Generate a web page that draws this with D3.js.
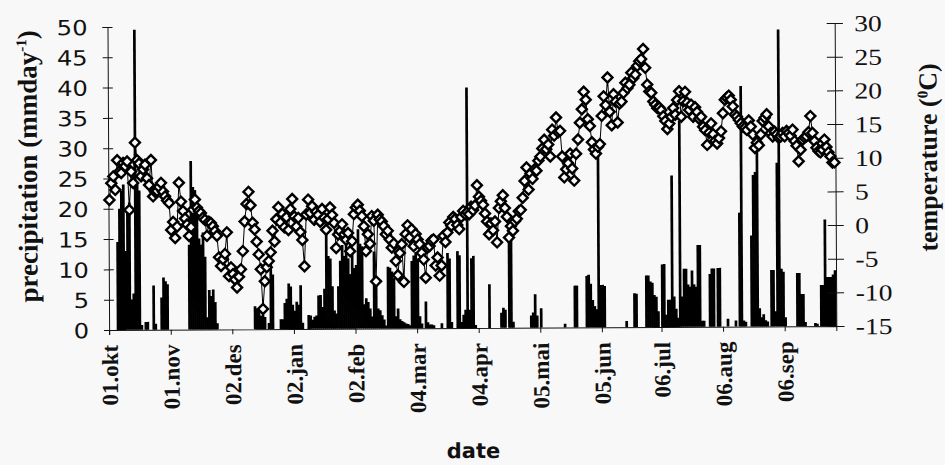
<!DOCTYPE html>
<html>
<head>
<meta charset="utf-8">
<script src="https://cdn.jsdelivr.net/npm/d3@7"></script>
<style>
  html, body { margin: 0; padding: 0; background: #f8f8f8; }
  svg { display: block; }
</style>
</head>
<body>
<svg id="chart" width="945" height="465"></svg>
<script>
// Tick labels on the date axis (one per period below)
const tickLabels = ["01.okt", "01.nov", "02.des", "02.jan", "02.feb", "04.mar",
                    "04.apr", "05.mai", "05.jun", "06.jul", "06.aug", "06.sep"];

// Daily precipitation (mm/day), one array per labelled period
const precipOkt = [0,0,0,0,14.5, 20,23,24,13,20, 21,5,6,49.5,24, 23,0.8,0,1.3,1.3, 0,0,7.3,1,0, 0,5.3,8.6,8.0,7.5, 0];
const precipNov = [0,0,0,0,0, 0,0,0,0,14, 27.8,23.5,23,20,15, 14,16,12,2,6.5, 5.5,6.6,4.5,1,0, 0,0,0,0,0, 0];
const precipDes = [0,0,0,0,0, 0,0,0,0,0, 0,3.8,3.4,3.0,2.2, 2.4,2.0,0,1,10.8, 9,0,0,0,1.6, 1.6,4.3,5,7.5,7.0, 4];
const precipJan = [3,4.5,4,7.2,1, 0,0,2.3,2.2,1.5, 2,2.2,5.5,5.6,3.6, 6.6,16.3,12,11.6,7, 3,2.5,7,11.2,13.8, 12,15,11.6,9,13.2, 10];
const precipFeb = [10.5,16.4,14,13.6,4, 5,4.4,3.3,2,12.7, 8,3.3,3,2.2,1.5, 0.5,10.2,10,9.4,8.3, 2,3.3,1.5,1.2,1, 0.8,0.7,0.5,11.1,12, 12.6];
const precipMar = [11.5,2,0.8,0,4.4, 1,0.6,0.6,0.5,0, 0,0,0.8,0,0, 12.4,11.5,1,0,0, 12.7,12,1,2.2,3, 39.7,3,11.5,11.9,0.5, 0];
const precipApr = [0,0,0,0,0, 7.2,0,0,0,0, 0,2.5,3.3,3.0,0, 15,14.8,1,0,0, 0,0,0,0,0, 0,2,2.5,5.5,2, 0];
const precipMai = [3.2,0,0,0,0, 0,0,0,0,0, 0,0,0.6,0,0, 0,0,6.9,6.9,0, 0,0,0,8.5,8.7, 7.2,4.5,3.5,3.0,29, 7];
const precipJun = [7,6.8,0,0,0, 0,0,0,0,0, 0,0,1,0,0, 0,5.6,5.5,0,0, 0,0,8.5,8.5,7.5, 7.3,5.3,5,2.6,0];
const precipJul = [10.3,10.4,2,4.5,4.5, 25,5,3,1.5,34, 5,9.6,9.6,7,6.6, 9.3,7,6.6,13.5,13.5, 1,1,0,0,8.7, 9.6,9.6,0,9.7,9.7, 0];
const precipAug = [0,0,1.3,0,0, 0,1,0,18.8,39.7, 1,0.8,0,0,15, 25,25.5,30,3,1.5, 2,1,0.8,0,9.3, 9.3,2.5,27,49,9.5, 9];
const precipSep = [1.5,0,0,0,0, 0,8.8,8.8,5.3,5.3, 0.7,0,0,0,0, 0.5,0.4,0,6.8,6.8, 17.6,8.1,8.1,8.1,8.5, 9.2];

// Daily mean temperature (°C), same periods
const tempOkt = [4.3,6.8,7.8,5.8,10.2, 8.5,8.3,9.8,9.3,10.0, 2.8,8.5,6.8,12.8,10.2, 9.7,7.8,8.8,9.5,7.5, 6.5,10.2,4.8,5.5,5.6, 6.2,6.8,5.5,4.8,4.2, 3.8];
const tempNov = [-0.2,1.0,-1.4,0.3,6.8, 4.0,2.6,1.5,0.6,-1.1, 0.2,2.8,4.3,3.1,2.6, 2.3,1.6,1.3,-1.1,1.0, 0.8,0.3,-0.4,-1.1,-4.3, -5.6,-4.6,-3.8,-0.6,-7.1, -5.8];
const tempDes = [-6.8,-7.6,-8.8,-7.2,-6.1, -3.4,1.0,3.6,5.4,3.4, 0.8,-0.2,-2.0,-3.9,-6.1, -12.0,-7.9,-5.8,-4.9,-3.6, -0.4,-2.0,1.3,3.1,0.8, 2.1,0.1,1.6,-0.3,2.8, 4.3];
const tempJan = [1.7,0.2,1.5,-0.6,-1.8, -5.7,2.0,4.2,2.2,3.2, 1.2,2.4,1.9,0.9,2.8, 1.5,-0.3,1.3,3.0,1.9, 0.7,-3.0,-1.0,-0.5,0.5, -1.0,-1.8,-0.8,-3.5,-2.0, 2.0];
const tempFeb = [3.0,3.4,2.5,1.7,0.2, -3.5,-1.0,-2.4,1.7,1.0, -8.0,1.9,1.2,0.9,0.2, -1.0,-0.5,-1.8,-3.0,-2.4, -5.0,-7.1,-3.8,-2.5,-8.1, -1.0,0.3,-1.5,-0.3,-2.8, -1.0];
const tempMar = [-1.8,-2.5,-3.8,-4.8,-7.5, -3.0,-2.8,-2.0,-1.8,-5.7, -4.5,-7.2,-5.7,-1.3,-2.2, -0.8,0.7,0.2,1.5,1.2, 0.3,-0.3,1.5,2.4,1.9, 2.2,1.9,3.0,2.5,3.2, 6.2];
const tempApr = [4.5,3.9,3.3,2.0,0.8, -1.1,0.5,-0.5,0.8,-2.3, 2.8,3.8,4.7,2.8,1.5, -1.6,0.1,-0.6,0.8,1.2, 2.3,2.5,4.3,6.8,8.8, 5.5,7.9,7.1,8.5,8.3, 9.8];
const tempMai = [10.4,11.6,12.9,11.5,12.2, 10.4,14.4,13.5,16.2,14.0, 14.2,10.4,7.3,8.5,9.4, 10.8,8.6,6.8,10.8,12.9, 15.4,17.4,20.0,18.8,15.9, 14.9,12.5,11.4,10.8,11.8, 12.2];
const tempJun = [16.4,19.3,18.0,22.1,17.0, 15.0,19.6,18.5,15.4,18.2, 18.5,19.8,21.3,20.5,21.0, 22.8,22.0,22.5,23.8,24.5, 24.8,26.3,23.5,21.0,20.0, 19.8,18.5,18.0,17.5,17.6];
const tempJul = [17.2,16.3,15.6,14.4,15.2, 16.2,17.5,16.5,18.7,20.0, 16.2,18.5,19.9,18.3,17.2, 18.0,16.2,17.6,16.9,15.9, 16.2,14.7,14.2,12.0,13.8, 15.2,13.6,12.6,12.2,13.0, 14.0];
const tempAug = [16.7,18.7,19.0,19.3,18.7, 17.7,16.5,16.2,15.7,15.2, 14.7,14.5,14.2,15.6,14.7, 13.5,11.5,12.3,11.9,13.5, 15.5,16.0,16.5,14.7,13.7, 13.2,13.9,13.5,13.0,13.2, 13.7];
const tempSep = [13.2,14.0,13.7,13.3,14.2, 12.5,11.8,9.5,11.2,12.7, 13.0,13.2,13.8,16.2,13.7, 12.5,11.5,11.0,10.8,11.2, 12.7,11.6,10.8,10.2,9.3, 9.3];

// Axis tick values
const precipTicks = [0, 5, 10, 15, 20, 25, 30, 35, 40, 45, 50];
const tempTicks = [-15, -10, -5, 0, 5, 10, 15, 20, 25, 30];

const precipPeriods = [precipOkt, precipNov, precipDes, precipJan, precipFeb, precipMar,
                       precipApr, precipMai, precipJun, precipJul, precipAug, precipSep];
const tempPeriods = [tempOkt, tempNov, tempDes, tempJan, tempFeb, tempMar,
                     tempApr, tempMai, tempJun, tempJul, tempAug, tempSep];

const precipitation = precipPeriods.flat();
const temperature = tempPeriods.flat();
// each labelled tick sits at the first day of its period
const tickDays = precipPeriods.map((p, i) => d3.sum(precipPeriods.slice(0, i), a => a.length));
const nDays = precipitation.length;

const svg = d3.select("#chart");
svg.append("rect").attr("width", 945).attr("height", 465).attr("fill", "#f8f8f8");

// the printed figure sits very slightly tilted on the page
const g = svg.append("g").attr("transform", "rotate(-0.31, 472, 176)");

const x = d3.scaleLinear().domain([0, nDays]).range([108.3, 835.5]);
const yP = d3.scaleLinear().domain([0, 50]).range([328, 25]);
const yT = d3.scaleLinear().domain([-15, 30]).range([328, 25]);

const ink = "#111";

// precipitation bars
g.append("g")
  .selectAll("rect")
  .data(precipitation.map((v, i) => ({ v, i })).filter(d => d.v > 0))
  .join("rect")
  .attr("x", d => x(d.i + 0.5) - 1.35)
  .attr("width", 2.7)
  .attr("y", d => yP(d.v))
  .attr("height", d => yP(0) - yP(d.v))
  .attr("fill", "#000");

// left axis: precipitation
const axL = g.append("g")
  .attr("transform", `translate(${x(0)},0)`)
  .call(d3.axisLeft(yP).tickValues(precipTicks).tickFormat(d => String(d)).tickSizeOuter(0).tickSize(5));
axL.select(".domain").attr("stroke", ink);
axL.selectAll(".tick line").attr("x1", 5).attr("x2", -5).attr("stroke", ink);
axL.selectAll(".tick text")
  .attr("font-family", "DejaVu Sans")
  .attr("font-size", 21)
  .attr("fill", ink)
  .attr("transform", "scale(1.15,1)")
  .attr("x", -20 / 1.15)
  .attr("dy", "0.36em");

// right axis: temperature
const axR = g.append("g")
  .attr("transform", `translate(${x(nDays)},0)`)
  .call(d3.axisRight(yT).tickValues(tempTicks).tickFormat(d => String(d)).tickSizeOuter(0).tickSize(8));
axR.select(".domain").attr("stroke", ink);
axR.selectAll(".tick line").attr("x1", -8).attr("x2", 8).attr("stroke", ink);
axR.selectAll(".tick text")
  .attr("font-family", "Liberation Serif")
  .attr("font-size", 23)
  .attr("fill", ink)
  .attr("transform", "scale(1.2,1)")
  .attr("x", 19.5 / 1.2)
  .attr("dy", "0.34em");

// bottom axis: dates
const axB = g.append("g")
  .attr("transform", `translate(0,${yP(0)})`)
  .call(d3.axisBottom(x).tickValues(tickDays).tickFormat((d, i) => tickLabels[i]).tickSizeOuter(0).tickSize(5));
axB.select(".domain").attr("stroke", ink);
axB.selectAll(".tick line").attr("stroke", ink);
axB.selectAll(".tick text")
  .attr("transform", "rotate(-90)")
  .attr("text-anchor", "end")
  .attr("x", -15)
  .attr("y", 0)
  .attr("dy", "0.35em")
  .attr("font-family", "Liberation Serif")
  .attr("font-weight", "bold")
  .attr("font-size", 23)
  .attr("fill", ink);

// temperature line with open diamond markers
const line = d3.line().x((d, i) => x(i + 0.5)).y(d => yT(d));
g.append("path")
  .datum(temperature)
  .attr("d", line)
  .attr("fill", "none")
  .attr("stroke", "#000")
  .attr("stroke-width", 1);

const diamond = d3.symbol().type(d3.symbolSquare).size(50);
g.append("g")
  .selectAll("path")
  .data(temperature)
  .join("path")
  .attr("d", diamond)
  .attr("transform", (d, i) => `translate(${x(i + 0.5)},${yT(d)}) rotate(45)`)
  .attr("fill", "#fafafa")
  .attr("stroke", "#000")
  .attr("stroke-width", 2.4);

// axis titles
const tL = g.append("text")
  .attr("transform", "translate(37,164) rotate(-90)")
  .attr("text-anchor", "middle")
  .attr("font-family", "Liberation Serif")
  .attr("font-weight", "bold")
  .attr("font-size", 27)
  .attr("fill", ink);
tL.append("tspan").text("precipitation (mmday");
tL.append("tspan").attr("dy", -10).attr("font-size", 15).text("-1");
tL.append("tspan").attr("dy", 10).text(")");

const tR = g.append("text")
  .attr("transform", "translate(937,160) rotate(-90)")
  .attr("text-anchor", "middle")
  .attr("font-family", "Liberation Serif")
  .attr("font-weight", "bold")
  .attr("font-size", 26)
  .attr("fill", ink);
tR.append("tspan").text("temperature (");
tR.append("tspan").attr("dy", -9).attr("font-size", 15).text("0");
tR.append("tspan").attr("dy", 9).text("C)");

g.append("text")
  .attr("x", 472)
  .attr("y", 458)
  .attr("text-anchor", "middle")
  .attr("font-family", "DejaVu Sans")
  .attr("font-weight", "bold")
  .attr("font-size", 21)
  .attr("fill", ink)
  .text("date");
</script>
</body>
</html>
